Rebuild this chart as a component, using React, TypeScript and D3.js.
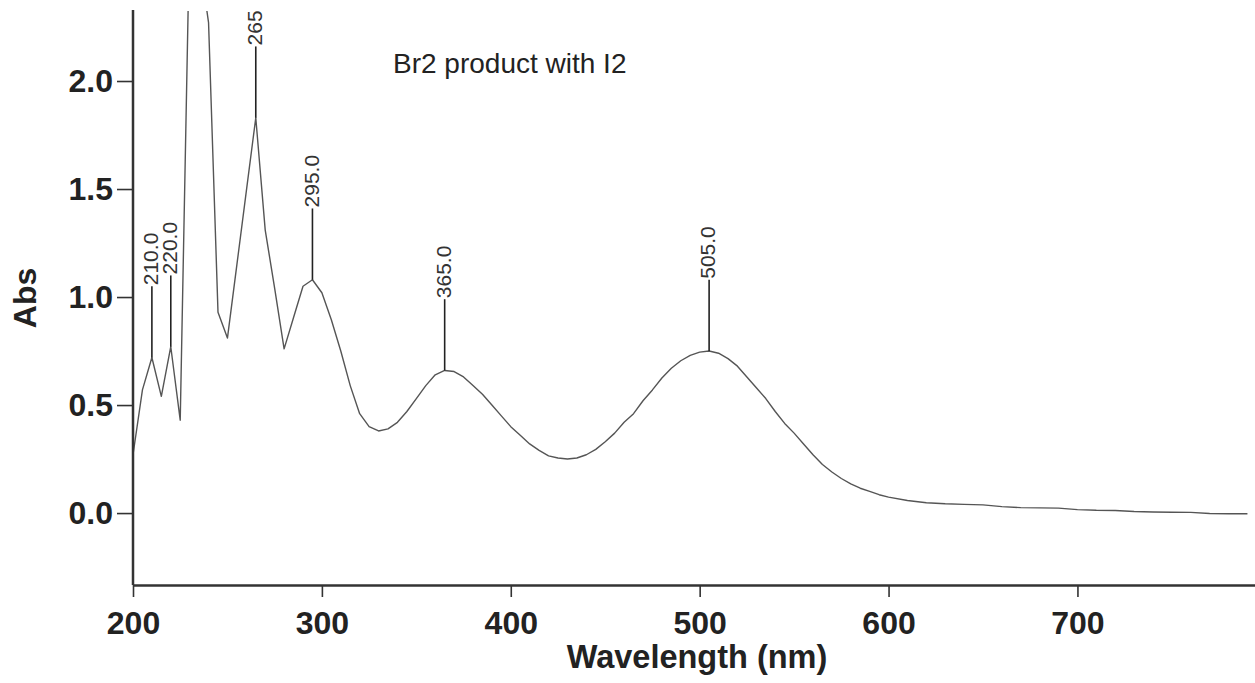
import React, { useEffect, useRef } from 'react';
import * as d3 from 'd3';

// spectrum sampled every 5 nm (10 nm in the flat tail)
const wavelengths = [
  200, 205, 210, 215, 220, 225, 230, 235, 240, 245, 250, 255, 260, 265, 270, 275, 280, 285, 290, 295,
  300, 305, 310, 315, 320, 325, 330, 335, 340, 345, 350, 355, 360, 365, 370, 375, 380, 385, 390, 395,
  400, 405, 410, 415, 420, 425, 430, 435, 440, 445, 450, 455, 460, 465, 470, 475, 480, 485, 490, 495,
  500, 505, 510, 515, 520, 525, 530, 535, 540, 545, 550, 555, 560, 565, 570, 575, 580, 585, 590, 595,
  600, 610, 620, 630, 640, 650, 660, 670, 680, 690, 700, 710, 720, 730, 740, 750, 760, 770, 780, 790,
];
const absorbance = [
  0.27, 0.57, 0.72, 0.54, 0.77, 0.43, 2.7, 2.58, 2.27, 0.93, 0.81, 1.15, 1.49, 1.83, 1.31, 1.04, 0.76, 0.905, 1.05, 1.08,
  1.02, 0.895, 0.75, 0.59, 0.46, 0.4, 0.38, 0.39, 0.42, 0.47, 0.53, 0.59, 0.64, 0.66, 0.655, 0.63, 0.59, 0.55, 0.5, 0.45,
  0.4, 0.36, 0.32, 0.29, 0.265, 0.255, 0.25, 0.255, 0.27, 0.295, 0.33, 0.37, 0.42, 0.46, 0.52, 0.57, 0.625, 0.67, 0.705, 0.73,
  0.745, 0.75, 0.74, 0.715, 0.68, 0.63, 0.58, 0.53, 0.47, 0.415, 0.37, 0.32, 0.27, 0.225, 0.19, 0.16, 0.135, 0.115, 0.1, 0.085,
  0.074, 0.058, 0.048, 0.043, 0.04, 0.038, 0.03, 0.025, 0.024, 0.023, 0.016, 0.013, 0.012, 0.007, 0.005, 0.004, 0.003, -0.002, -0.003, -0.003,
];

const peakWavelengths = [210, 220, 265, 295, 365, 505];
const peakLabels = ['210.0', '220.0', '265', '295.0', '365.0', '505.0'];

const xTicks = [200, 300, 400, 500, 600, 700];
const yTicks = [0, 0.5, 1.0, 1.5, 2.0];

const title = 'Br2 product with I2';

export default function App() {
  const svgRef = useRef<SVGSVGElement>(null);

  useEffect(() => {
    if (!svgRef.current) return;
    const svg = d3.select(svgRef.current);
    svg.selectAll('*').remove();

    const font = '"Liberation Sans", Arial, Helvetica, sans-serif';
    const left = 133;
    const top = 10;
    const bottom = 585;
    const right = 1255;

    const x = d3.scaleLinear().domain([200, 794]).range([left, right]);
    const y = d3.scaleLinear().domain([-0.333, 2.375]).range([bottom, 0]);

    const data = wavelengths.map((w, i) => ({ w, a: absorbance[i] }));

    svg.append('defs')
      .append('clipPath')
      .attr('id', 'plot-clip')
      .append('rect')
      .attr('x', left)
      .attr('y', top + 1)
      .attr('width', right - left)
      .attr('height', bottom - top);

    // spectrum
    const line = d3.line<{ w: number; a: number }>()
      .x((d) => x(d.w))
      .y((d) => y(d.a));

    svg.append('path')
      .datum(data)
      .attr('clip-path', 'url(#plot-clip)')
      .attr('fill', 'none')
      .attr('stroke', '#555')
      .attr('stroke-width', 1.4)
      .attr('stroke-linejoin', 'round')
      .attr('d', line);

    // peak markers
    const stem = 0.33;
    peakWavelengths.forEach((pw, i) => {
      const a = absorbance[wavelengths.indexOf(pw)];
      const px = x(pw);
      const stemTop = y(a + stem);
      svg.append('line')
        .attr('x1', px).attr('x2', px)
        .attr('y1', y(a)).attr('y2', stemTop)
        .attr('stroke', '#222')
        .attr('stroke-width', 1.6);
      svg.append('text')
        .attr('transform', `translate(${px},${stemTop - 1}) rotate(-90)`)
        .attr('dy', '0.3em')
        .attr('text-anchor', 'start')
        .attr('font-family', font)
        .attr('font-size', 21)
        .attr('fill', '#333')
        .text(peakLabels[i]);
    });

    // axes
    const xAxis = svg.append('g').attr('transform', `translate(0,${bottom})`);
    xAxis.call(d3.axisBottom(x).tickValues(xTicks).tickSize(12).tickSizeOuter(0).tickPadding(14).tickFormat(d3.format('d')));
    xAxis.select('.domain').attr('stroke', '#333').attr('stroke-width', 2.5);
    xAxis.selectAll('.tick line').attr('stroke', '#333').attr('stroke-width', 1.6);
    xAxis.selectAll('.tick text')
      .attr('font-family', font)
      .attr('font-size', 32)
      .attr('font-weight', 'bold')
      .attr('fill', '#222');

    const yAxis = svg.append('g').attr('transform', `translate(${left},0)`);
    yAxis.call(d3.axisLeft(y).tickValues(yTicks).tickSize(16).tickSizeOuter(0).tickPadding(4).tickFormat(d3.format('.1f')));
    yAxis.select('.domain').remove();
    yAxis.append('line')
      .attr('x1', 0).attr('x2', 0)
      .attr('y1', top).attr('y2', bottom)
      .attr('stroke', '#333')
      .attr('stroke-width', 2.5);
    yAxis.selectAll('.tick line').attr('stroke', '#333').attr('stroke-width', 1.6);
    yAxis.selectAll('.tick text')
      .attr('font-family', font)
      .attr('font-size', 32)
      .attr('font-weight', 'bold')
      .attr('fill', '#222');

    // axis titles
    svg.append('text')
      .attr('x', 697)
      .attr('y', 668)
      .attr('text-anchor', 'middle')
      .attr('font-family', font)
      .attr('font-size', 32.5)
      .attr('font-weight', 'bold')
      .attr('fill', '#222')
      .text('Wavelength (nm)');

    svg.append('text')
      .attr('transform', 'translate(25,298) rotate(-90)')
      .attr('dy', '0.35em')
      .attr('text-anchor', 'middle')
      .attr('font-family', font)
      .attr('font-size', 32)
      .attr('font-weight', 'bold')
      .attr('fill', '#222')
      .text('Abs');

    svg.append('text')
      .attr('x', 393)
      .attr('y', 73)
      .attr('font-family', font)
      .attr('font-size', 28)
      .attr('fill', '#222')
      .text(title);
  }, []);

  return (
    <svg
      ref={svgRef}
      width={1255}
      height={683}
      style={{ position: 'absolute', left: 0, top: 0, background: '#fff' }}
    />
  );
}
